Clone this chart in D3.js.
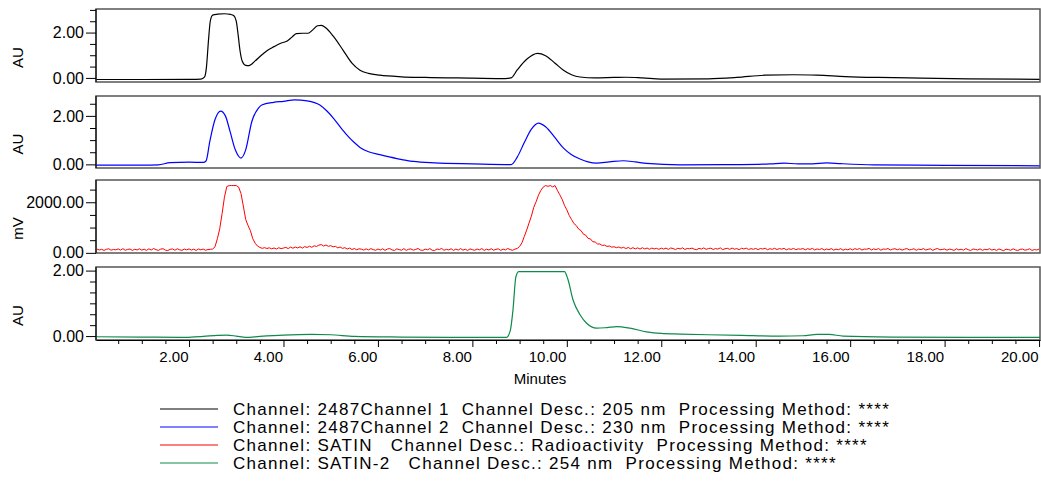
<!DOCTYPE html>
<html>
<head>
<meta charset="utf-8">
<script src="https://cdn.jsdelivr.net/npm/d3@7"></script>
<style>
  body { margin: 0; background: #fff; }
  svg text { font-family: "Liberation Sans", Arial, Helvetica, sans-serif; fill: #000; }
  .frame { fill: none; stroke: #555; stroke-width: 1.5; }
  .trace { fill: none; stroke-linejoin: round; }
</style>
</head>
<body>
<svg id="chromatogram" width="1041" height="484"></svg>
<script>
// ---- data ----
var xMajorTicks = [2, 4, 6, 8, 10, 12, 14, 16, 18, 20];

// channel 1, 205 nm  [minutes, AU]
var ch1 = [[0.03,-0.07],[1.0,-0.07],[2.0,-0.06],[2.25,-0.05],[2.33,0.05],[2.37,0.5],[2.41,1.6],[2.45,2.5],[2.5,2.77],[2.6,2.81],[2.75,2.83],[2.88,2.8],[2.95,2.74],[3.0,2.5],[3.04,1.9],[3.08,1.2],[3.13,0.72],[3.2,0.55],[3.27,0.54],[3.4,0.75],[3.52,0.98],[3.65,1.2],[3.8,1.38],[3.93,1.52],[4.08,1.63],[4.18,1.8],[4.27,1.95],[4.4,1.97],[4.52,1.97],[4.62,2.12],[4.72,2.3],[4.8,2.32],[4.9,2.2],[5.05,1.85],[5.26,1.23],[5.45,0.65],[5.62,0.34],[5.8,0.2],[6.04,0.12],[6.5,0.05],[7.0,0.02],[8.0,-0.01],[8.7,-0.03],[8.82,0.0],[8.95,0.35],[9.15,0.82],[9.38,1.08],[9.55,0.98],[9.75,0.65],[9.93,0.34],[10.1,0.14],[10.28,0.04],[10.6,0.0],[11.0,0.02],[11.25,0.03],[11.6,0.0],[12.0,-0.05],[13.0,-0.04],[13.6,0.02],[14.2,0.12],[14.8,0.14],[15.3,0.12],[15.9,0.06],[16.6,0.02],[17.5,-0.01],[18.5,-0.04],[20.02,-0.06]];

// channel 2, 230 nm  [minutes, AU]
var ch2 = [[0.03,-0.03],[1.0,-0.03],[1.35,-0.02],[1.6,0.07],[2.0,0.09],[2.3,0.08],[2.36,0.14],[2.44,0.95],[2.55,1.85],[2.67,2.2],[2.77,2.0],[2.87,1.35],[2.98,0.6],[3.1,0.26],[3.2,0.6],[3.33,1.77],[3.47,2.32],[3.54,2.45],[3.79,2.56],[4.0,2.6],[4.24,2.66],[4.5,2.62],[4.77,2.45],[4.92,2.2],[5.06,1.9],[5.2,1.55],[5.34,1.22],[5.5,0.9],[5.62,0.7],[5.8,0.52],[6.04,0.4],[6.4,0.24],[6.75,0.12],[7.2,0.06],[8.0,0.02],[8.82,-0.01],[8.95,0.3],[9.1,0.9],[9.25,1.45],[9.4,1.7],[9.55,1.55],[9.75,1.1],[9.93,0.67],[10.1,0.4],[10.28,0.22],[10.45,0.1],[10.63,0.05],[10.9,0.1],[11.2,0.15],[11.45,0.1],[11.69,0.04],[12.4,-0.02],[13.5,-0.01],[14.3,0.02],[14.6,0.05],[14.9,0.02],[15.2,0.02],[15.5,0.06],[15.8,0.03],[16.5,-0.02],[18.0,-0.04],[20.02,-0.06]];

// SATIN radioactivity, mV sampled every 0.05 min from 0.05 (one row per minute)
var satinStart = 0.05, satinStep = 0.05;
var satinMv = [
  150,112,138,96,141,162,104,133,118,158,109,165,101,136,152,97,140,115,160,108,
  145,99,158,112,170,127,95,148,163,106,92,139,155,103,161,121,98,150,117,157,
  110,146,94,155,120,149,102,131,140,152,240,560,950,1550,2200,2620,2660,2660,2660,2660,
  2600,2350,1850,1320,1080,870,560,380,270,215,178,205,172,198,160,193,151,201,168,190,
  215,170,226,182,231,194,240,187,248,211,262,219,280,252,305,326,271,310,259,284,
  236,258,197,230,176,205,150,189,132,171,121,160,145,108,158,117,166,129,101,152,
  113,160,98,149,171,115,94,158,127,104,166,99,142,155,106,135,172,111,96,150,
  122,167,103,92,153,131,175,100,140,116,162,97,148,110,169,107,144,93,156,125,
  101,152,119,170,95,146,112,163,104,138,158,98,149,115,173,128,102,145,175,250,
  400,650,900,1180,1450,1800,2020,2280,2470,2600,2660,2630,2660,2610,2660,2470,2300,2120,1880,1700,
  1480,1320,1160,1080,940,880,740,700,570,550,440,430,350,350,290,305,255,270,225,240,
  205,232,188,219,170,212,161,204,158,196,149,203,152,190,141,188,155,177,138,185,
  150,188,136,192,171,129,181,154,199,133,172,160,188,143,125,178,149,196,138,168,
  185,134,170,148,196,128,161,179,137,190,145,168,125,182,152,186,132,166,141,175,
  128,172,150,184,123,163,139,180,131,167,146,176,120,160,137,174,125,158,144,170,
  119,164,135,177,114,156,129,171,111,152,126,168,108,149,124,166,105,147,121,161,
  118,165,132,171,109,150,142,176,115,158,127,169,104,153,138,172,112,147,161,121,
  155,108,143,170,117,131,162,100,149,126,168,111,139,158,97,145,173,119,134,152,
  104,149,131,96,160,118,143,107,166,125,92,151,136,113,158,99,140,122,163,110,
  141,97,155,118,88,146,130,102,159,115,93,138,150,106,124,161,95,132,112,147
];

// SATIN-2, 254 nm  [minutes, AU]
var ch4 = [[0.03,-0.02],[1.0,-0.03],[1.8,-0.04],[2.3,-0.01],[2.6,0.02],[2.8,0.03],[3.0,0.0],[3.2,-0.04],[3.5,-0.01],[4.0,0.03],[4.6,0.05],[5.0,0.04],[5.5,-0.01],[6.5,-0.03],[7.5,-0.04],[8.72,-0.04],[8.8,0.15],[8.86,0.8],[8.92,1.8],[8.98,1.97],[9.5,1.97],[9.95,1.97],[10.02,1.75],[10.13,1.11],[10.28,0.65],[10.42,0.39],[10.63,0.24],[10.85,0.26],[11.06,0.29],[11.34,0.24],[11.69,0.13],[12.0,0.08],[12.4,0.06],[13.0,0.04],[13.7,0.02],[14.5,0.0],[15.0,0.01],[15.3,0.05],[15.55,0.05],[15.85,0.0],[16.9,-0.03],[18.5,-0.04],[20.02,-0.04]];

var units = ["AU", "AU", "mV", "AU"];
var yMajorTicks = [[0, 2], [0, 2], [0, 2000], [0, 2]];
var legendNames = [
  "Channel: 2487Channel 1  Channel Desc.: 205 nm  Processing Method: ****",
  "Channel: 2487Channel 2  Channel Desc.: 230 nm  Processing Method: ****",
  "Channel: SATIN   Channel Desc.: Radioactivity  Processing Method: ****",
  "Channel: SATIN-2   Channel Desc.: 254 nm  Processing Method: ****"
];

// ---- layout ----
var svg = d3.select("#chromatogram");
var left = 96, right = 1040;
var colors = ["#000000", "#0000ff", "#ff0000", "#0e8a4a"];

var satin = satinMv.map(function(v, i) { return [satinStart + i * satinStep, v]; });
var series = [ch1, ch2, satin, ch4];

var panels = [
  {top: 9,   bottom: 82,  domain: [-0.18, 3.04], minor: 0.5},
  {top: 96,  bottom: 168, domain: [-0.15, 2.82], minor: 0.5},
  {top: 180, bottom: 253, domain: [-6, 2880],    minor: 500},
  {top: 267, bottom: 340, domain: [-0.12, 2.11], minor: 1 / 3}
];

var x = d3.scaleLinear().domain([0.03, 20.02]).range([left, right]);
var fmt = d3.format(".2f");
var font = "'Liberation Sans', Arial, Helvetica, sans-serif";

panels.forEach(function(p, i) {
  var y = d3.scaleLinear().domain(p.domain).range([p.bottom, p.top]);

  var minorVals = d3.range(0, p.domain[1] + 1e-9, p.minor).filter(function(v) {
    return yMajorTicks[i].indexOf(Math.round(v * 1000) / 1000) < 0;
  });

  svg.append("clipPath").attr("id", "clip" + i)
    .append("rect")
    .attr("x", left).attr("y", p.top)
    .attr("width", right - left).attr("height", p.bottom - p.top);

  svg.append("path")
    .datum(series[i])
    .attr("class", "trace")
    .attr("clip-path", "url(#clip" + i + ")")
    .attr("stroke", colors[i])
    .attr("stroke-width", i == 2 ? 1 : 1.2)
    .attr("d", d3.line()
      .curve(i == 2 ? d3.curveLinear : d3.curveMonotoneX)
      .x(function(d) { return x(d[0]); })
      .y(function(d) { return y(d[1]); }));

  svg.append("rect")
    .attr("class", "frame")
    .attr("x", left).attr("y", p.top)
    .attr("width", right - left).attr("height", p.bottom - p.top);

  var gMinor = svg.append("g")
    .attr("transform", "translate(" + left + ",0)")
    .call(d3.axisLeft(y).tickValues(minorVals).tickSize(6).tickFormat(""));
  gMinor.select(".domain").remove();

  var gy = svg.append("g")
    .attr("transform", "translate(" + left + ",0)")
    .call(d3.axisLeft(y).tickValues(yMajorTicks[i]).tickSize(10).tickSizeOuter(0).tickPadding(2).tickFormat(fmt));
  gy.attr("font-size", 16).attr("font-family", font);
  gy.select(".domain").attr("d", "M0," + p.top + "V" + p.bottom);

  svg.append("text")
    .attr("transform", "translate(23," + ((p.top + p.bottom) / 2 + 12) + ") rotate(-90)")
    .attr("text-anchor", "middle")
    .attr("font-size", 15)
    .text(units[i]);
});

// x axis under the last panel, labels sit left of their ticks
var xMinor = d3.range(0.5, 20.01, 0.5).filter(function(v) { return v % 2 != 0; });
var gxm = svg.append("g")
  .attr("transform", "translate(0,340)")
  .call(d3.axisBottom(x).tickValues(xMinor).tickSize(4).tickFormat(""));
gxm.select(".domain").remove();

var gx = svg.append("g")
  .attr("transform", "translate(0,340)")
  .call(d3.axisBottom(x).tickValues(xMajorTicks).tickSize(7).tickSizeOuter(0).tickPadding(4).tickFormat(fmt));
gx.attr("font-size", 15).attr("font-family", font);
gx.selectAll(".tick text").attr("text-anchor", "end").attr("x", -1);

svg.append("text")
  .attr("x", 540).attr("y", 384)
  .attr("text-anchor", "middle")
  .attr("font-size", 15)
  .text("Minutes");

// legend
var legend = svg.selectAll(".legend")
  .data(legendNames)
  .enter().append("g")
  .attr("class", "legend")
  .attr("transform", function(d, i) { return "translate(0," + (409 + i * 18) + ")"; });

legend.append("line")
  .attr("x1", 160).attr("x2", 218)
  .attr("y1", 0).attr("y2", 0)
  .attr("stroke", function(d, i) { return colors[i]; })
  .attr("stroke-width", 1.2);

legend.append("text")
  .attr("x", 233).attr("y", 6)
  .attr("font-size", 17)
  .attr("letter-spacing", 1.3)
  .attr("xml:space", "preserve")
  .style("white-space", "pre")
  .text(function(d) { return d; });
</script>
</body>
</html>
